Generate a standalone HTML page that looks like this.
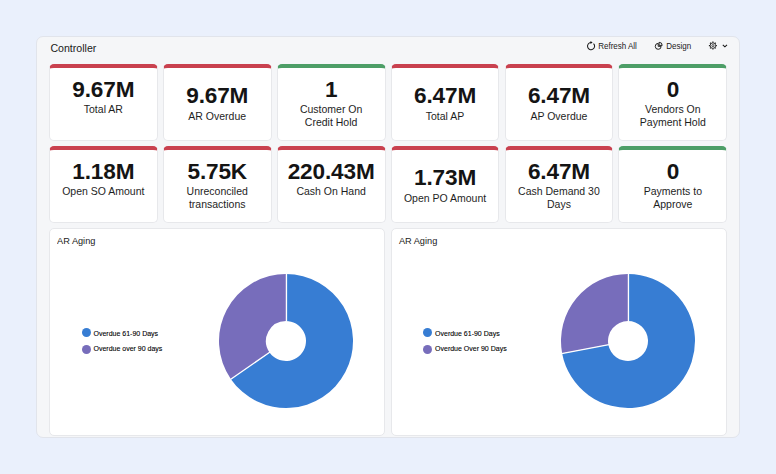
<!DOCTYPE html>
<html><head><meta charset="utf-8">
<style>
*{box-sizing:border-box;margin:0;padding:0}
html,body{width:776px;height:474px;overflow:hidden;background:#EAF0FC;font-family:"Liberation Sans",sans-serif;color:#1b1b1b}
.wrap{position:absolute;left:36px;top:36px;width:704px;height:402px;background:#F5F6F8;border:1px solid #E1E4EB;border-radius:7px}
.t{position:absolute;white-space:nowrap;line-height:1}
.card{position:absolute;width:108.9px;height:76.8px;background:#fff;border:1px solid #E7E8EB;border-top:4px solid #C9414F;border-radius:5px}
.card.g{border-top-color:#4D9E67}
.card .c{position:absolute;left:0;right:0;top:0;bottom:0}
.v{position:absolute;left:0;right:0;text-align:center;font-size:22.6px;letter-spacing:-0.15px;font-weight:bold;line-height:22.6px;color:#141414;top:11px}
.one .v{top:17px}
.l{position:absolute;left:0;right:0;text-align:center;font-size:10.5px;line-height:12.6px;color:#1e1e1e;top:35.2px}
.one .l{top:41.4px}
.panel{position:absolute;top:228px;height:207.5px;width:336.75px;background:#fff;border:1px solid #E7E8EB;border-radius:5px}
.ptitle{position:absolute;left:7.2px;top:7.6px;font-size:9.2px;color:#1a1a1a;transform:scaleY(1.05);transform-origin:0 7.8px}
.leg{position:absolute;font-size:7px;color:#000;-webkit-text-stroke:0.1px #000}
.dot{position:absolute;width:9px;height:9px;border-radius:50%}
.hdr{font-size:8px;color:#1a1a1a;transform:scaleY(1.1);transform-origin:0 7px}
</style></head><body>
<div class="wrap"></div>
<div class="t" style="left:50.4px;top:43.3px;font-size:10.6px;color:#1a1a1a">Controller</div>
<svg style="position:absolute;left:586px;top:40px" width="11" height="11" viewBox="0 0 11 11">
 <path d="M7.55 3.55 A3.55 3.55 0 1 1 5 2.55" fill="none" stroke="#1a1a1a" stroke-width="1.05"/>
 <path d="M4.5 0.9 L6.6 2.6 L4.5 4.1 Z" fill="#1a1a1a"/>
</svg>
<div class="t hdr" style="left:598.2px;top:43.2px">Refresh All</div>
<svg style="position:absolute;left:654px;top:40px" width="10" height="11" viewBox="0 0 10 11">
 <path d="M4.2 3.4 A2.95 2.95 0 1 0 7.15 6.35 L4.2 6.35 Z" fill="none" stroke="#1a1a1a" stroke-width="0.95" stroke-linejoin="round"/>
 <path d="M5.1 5.4 L5.1 2.3 A3.1 3.1 0 0 1 8.2 5.4 Z" fill="none" stroke="#1a1a1a" stroke-width="0.95" stroke-linejoin="round"/>
</svg>
<div class="t hdr" style="left:666.3px;top:43.2px">Design</div>
<svg style="position:absolute;left:708px;top:41px" width="10" height="10" viewBox="0 0 10 10">
 <circle cx="4.9" cy="4.6" r="2.75" fill="none" stroke="#222" stroke-width="0.9"/>
 <path d="M4.90 1.70 L4.90 0.60 M6.95 2.55 L7.73 1.77 M7.80 4.60 L8.90 4.60 M6.95 6.65 L7.73 7.43 M4.90 7.50 L4.90 8.60 M2.85 6.65 L2.07 7.43 M2.00 4.60 L0.90 4.60 M2.85 2.55 L2.07 1.77" stroke="#222" stroke-width="1.25"/>
 <circle cx="4.9" cy="4.6" r="1.05" fill="none" stroke="#222" stroke-width="0.8"/>
</svg>
<svg style="position:absolute;left:722px;top:43.7px" width="6" height="4" viewBox="0 0 6 4">
 <path d="M0.8 0.8 L2.9 2.8 L5 0.8" fill="none" stroke="#1a1a1a" stroke-width="1.1"/>
</svg>
<div class="card" style="left:48.90px;top:64.2px"><div class="c"><div class="v">9.67M</div><div class="l">Total AR</div></div></div>
<div class="card one" style="left:162.80px;top:64.2px"><div class="c"><div class="v">9.67M</div><div class="l">AR Overdue</div></div></div>
<div class="card g" style="left:276.70px;top:64.2px"><div class="c"><div class="v">1</div><div class="l">Customer On<br>Credit Hold</div></div></div>
<div class="card one" style="left:390.60px;top:64.2px"><div class="c"><div class="v">6.47M</div><div class="l">Total AP</div></div></div>
<div class="card one" style="left:504.50px;top:64.2px"><div class="c"><div class="v">6.47M</div><div class="l">AP Overdue</div></div></div>
<div class="card g" style="left:618.40px;top:64.2px"><div class="c"><div class="v">0</div><div class="l">Vendors On<br>Payment Hold</div></div></div>
<div class="card" style="left:48.90px;top:146.2px"><div class="c"><div class="v">1.18M</div><div class="l">Open SO Amount</div></div></div>
<div class="card" style="left:162.80px;top:146.2px"><div class="c"><div class="v">5.75K</div><div class="l">Unreconciled<br>transactions</div></div></div>
<div class="card" style="left:276.70px;top:146.2px"><div class="c"><div class="v">220.43M</div><div class="l">Cash On Hand</div></div></div>
<div class="card one" style="left:390.60px;top:146.2px"><div class="c"><div class="v">1.73M</div><div class="l">Open PO Amount</div></div></div>
<div class="card" style="left:504.50px;top:146.2px"><div class="c"><div class="v">6.47M</div><div class="l">Cash Demand 30<br>Days</div></div></div>
<div class="card g" style="left:618.40px;top:146.2px"><div class="c"><div class="v">0</div><div class="l">Payments to<br>Approve</div></div></div>
<div class="panel" style="left:48.90px;width:336.1px">
 <div class="t ptitle">AR Aging</div>
 <div class="dot" style="left:32.5px;top:99px;background:#377DD3"></div>
 <div class="t leg" style="left:43.6px;top:101px">Overdue 61-90 Days</div>
 <div class="dot" style="left:32.5px;top:115.7px;background:#776DBB"></div>
 <div class="t leg" style="left:43.6px;top:116.4px">Overdue over 90 days</div>
 <svg style="position:absolute;left:167.10px;top:42.60px" width="138" height="138" viewBox="-69 -69 138 138"><path d="M0.00 -67.00 A67 67 0 1 1 -55.08 38.14 L-16.44 11.39 A20 20 0 1 0 0.00 -20.00 Z" fill="#377DD3"/><path d="M-55.08 38.14 A67 67 0 0 1 -0.00 -67.00 L-0.00 -20.00 A20 20 0 0 0 -16.44 11.39 Z" fill="#776DBB"/><path d="M0.45 -67.6 L0.45 -19.4 M-55.58 38.48 L-15.95 11.04" stroke="#fff" stroke-width="1.35"/></svg>
</div>
<div class="panel" style="left:390.75px;width:336.65px">
 <div class="t ptitle">AR Aging</div>
 <div class="dot" style="left:31.5px;top:99px;background:#377DD3"></div>
 <div class="t leg" style="left:43.3px;top:101px">Overdue 61-90 Days</div>
 <div class="dot" style="left:31.5px;top:115.7px;background:#776DBB"></div>
 <div class="t leg" style="left:43.3px;top:116.4px">Overdue Over 90 Days</div>
 <svg style="position:absolute;left:166.95px;top:42.60px" width="138" height="138" viewBox="-69 -69 138 138"><path d="M0.00 -67.00 A67 67 0 1 1 -65.84 12.44 L-19.65 3.71 A20 20 0 1 0 0.00 -20.00 Z" fill="#377DD3"/><path d="M-65.84 12.44 A67 67 0 0 1 -0.00 -67.00 L-0.00 -20.00 A20 20 0 0 0 -19.65 3.71 Z" fill="#776DBB"/><path d="M0.45 -67.6 L0.45 -19.4 M-66.42 12.55 L-19.06 3.60" stroke="#fff" stroke-width="1.35"/></svg>
</div>

</body></html>
